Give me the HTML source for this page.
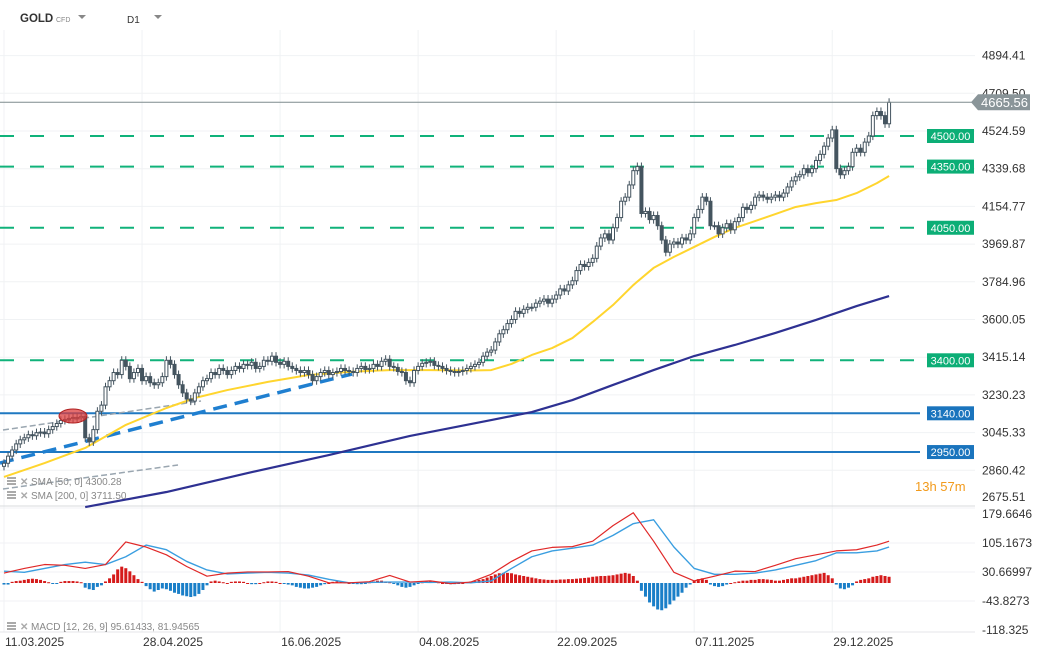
<!DOCTYPE html>
<html><head><meta charset="utf-8"><style>
body{margin:0;background:#fff;font-family:"Liberation Sans",sans-serif;}
svg text{font-family:"Liberation Sans",sans-serif;}
</style></head><body>
<svg id="c" width="1042" height="659" viewBox="0 0 1042 659"></svg>
<script>
const closes=[2895,2930,2960,2990,3010,3020,3035,3030,3045,3048,
3040,3060,3075,3090,3105,3110,3115,3120,3118,3125,
3020,3000,3060,3150,3180,3270,3300,3340,3330,3400,
3370,3310,3340,3360,3300,3320,3290,3280,3290,3320,
3400,3380,3330,3280,3240,3210,3200,3240,3270,3300,
3310,3340,3330,3360,3350,3330,3350,3370,3360,3380,
3375,3390,3360,3370,3400,3395,3420,3390,3380,3395,
3370,3360,3350,3340,3350,3330,3300,3320,3340,3350,
3330,3340,3345,3360,3350,3345,3340,3360,3370,3355,
3360,3380,3370,3395,3405,3370,3365,3345,3340,3300,
3290,3350,3370,3385,3390,3395,3375,3370,3360,3350,
3345,3340,3345,3350,3360,3370,3380,3390,3420,3440,
3450,3490,3530,3550,3580,3600,3640,3630,3650,3660,
3660,3680,3690,3700,3680,3700,3720,3750,3740,3770,
3790,3840,3870,3860,3880,3900,3960,4000,4020,3990,
4050,4100,4180,4200,4260,4330,4350,4120,4130,4090,
4110,4060,3990,3930,3970,3980,3970,4000,3990,4020,
4100,4140,4200,4180,4060,4060,4020,4050,4070,4040,
4080,4100,4150,4140,4160,4200,4210,4200,4190,4200,
4210,4200,4220,4250,4280,4300,4310,4340,4320,4340,
4380,4410,4450,4490,4530,4340,4310,4330,4350,4420,
4440,4420,4470,4500,4600,4620,4600,4560,4665];
const sma50Idx=[0,10,20,30,40,47,55,65,75,85,95,105,115,120,125,130,135,140,145,150,155,160,165,170,175,180,185,190,195,200,205,210,215,218];
const sma50Val=[2828,2896,2970,3083,3166,3215,3254,3294,3328,3343,3352,3352,3350,3352,3382,3426,3460,3509,3588,3671,3769,3853,3907,3956,4005,4049,4083,4117,4152,4171,4186,4220,4269,4304];
const sma200Idx=[20,40,60,80,100,120,130,140,150,160,170,180,190,200,210,218];
const sma200Val=[2680,2754,2847,2935,3029,3107,3146,3205,3279,3352,3421,3475,3534,3598,3666,3715];
const macdIdx=[0,5,10,15,20,25,30,35,40,45,50,55,60,65,70,75,80,85,90,95,100,105,110,115,120,125,130,135,140,145,150,155,160,165,170,175,180,185,190,195,200,205,210,215,218];
const macdVal=[28,40,50,48,40,50,108,95,75,45,20,28,31,31,32,20,3,3,6,22,5,8,1,5,25,58,85,94,96,110,150,183,110,30,8,20,33,32,48,65,75,85,88,100,110];
const signalVal=[33,30,40,50,56,50,70,100,88,58,36,26,28,30,28,23,12,3,4,5,5,4,5,3,8,40,70,85,92,100,125,155,165,95,40,25,25,28,36,48,60,80,80,85,95];
const hist=[-4,-4,3,5,6,8,10,11,10,8,5,2,-2,-2,3,5,5,5,4,2,
-12,-16,-18,-10,-6,4,12,22,35,42,38,30,20,10,3,-8,-16,-22,-18,-14,
-16,-20,-25,-28,-32,-34,-36,-34,-28,-18,-6,4,6,4,2,0,3,4,4,3,
0,-3,-3,0,2,4,4,3,0,-2,-4,-6,-10,-12,-14,-14,-12,-10,-6,-3,
0,3,4,4,2,0,-2,-3,-3,-2,2,4,6,6,4,2,-2,-6,-10,-12,
-10,-6,-2,2,4,4,3,2,0,-2,-3,-3,-2,0,2,4,5,8,10,14,
18,22,25,26,26,25,22,20,18,16,14,12,10,9,8,8,8,9,9,10,
10,11,12,13,14,16,17,18,18,19,20,22,24,26,24,18,6,-20,-35,-50,
-60,-68,-70,-65,-55,-45,-35,-25,-12,-4,6,10,12,8,-4,-8,-10,-8,-4,0,
2,4,6,6,8,8,10,10,9,8,6,6,8,10,12,12,14,16,18,20,
22,24,26,20,12,-4,-14,-16,-12,-6,4,8,10,12,16,18,20,18,16];
const priceTicks=["4894.41","4709.50","4524.59","4339.68","4154.77","3969.87","3784.96","3600.05","3415.14","3230.23","3045.33","2860.42","2675.51"];
const macdTicks=["179.6646","105.1673","30.66997","-43.8273","-118.325"];
const dateLabels=["11.03.2025","28.04.2025","16.06.2025","04.08.2025","22.09.2025","07.11.2025","29.12.2025"];
const dateIdx=[0,34,68,102,136,170,204];
const levelsGreen=[4500,4350,4050,3400];
const levelsBlue=[3140,2950];
const lastPrice=4665.56;

const NS="http://www.w3.org/2000/svg";
const svg=document.getElementById('c');
function mk(tag,attrs,parent){const e=document.createElementNS(NS,tag);for(const k in attrs)e.setAttribute(k,attrs[k]);(parent||svg).appendChild(e);return e;}
const X=i=>4+i*4.06;
const Y=p=>136+(4500-p)*0.2039;
const MY=v=>584-v*0.3893;

const grid=mk('g',{});


priceTicks.forEach(t=>{const y=Y(parseFloat(t));mk('line',{x1:0,x2:975,y1:y,y2:y,stroke:'#f0f2f4','stroke-width':1},grid);});
[105.1673,30.66997,-43.8273].forEach(v=>mk('line',{x1:0,x2:975,y1:MY(v),y2:MY(v),stroke:'#f0f2f4'},grid));
dateIdx.forEach(i=>mk('line',{x1:X(i),x2:X(i),y1:30,y2:632,stroke:'#f0f2f4'},grid));
mk('line',{x1:0,x2:975,y1:506,y2:506,stroke:'#d8dbde'},grid);
mk('line',{x1:0,x2:975,y1:632,y2:632,stroke:'#e4e6e8'},grid);

priceTicks.forEach((t,k)=>{const y=k==priceTicks.length-1?501:Y(parseFloat(t))+4;const e=mk('text',{x:982,y:y,'font-size':12,fill:'#333'});e.textContent=t;

});
macdTicks.forEach(t=>{const v=parseFloat(t);let y=MY(v)+4;if(v>170)y=518;if(v<-110)y=634;const e=mk('text',{x:982,y:y,'font-size':12,fill:'#333'});e.textContent=t;

});
dateLabels.forEach((t,k)=>{const e=mk('text',{x:X(dateIdx[k])+1,y:646,'font-size':12,fill:'#333'});e.textContent=t;

});

levelsGreen.forEach(v=>{const y=Y(v);const l=mk('line',{x1:0,x2:920,y1:y,y2:y,stroke:'#10b27a','stroke-width':2,'stroke-dasharray':'14,16'});


const r=mk('rect',{x:927,y:y-7,width:47,height:14,fill:'#0cae76'});


const t=mk('text',{x:950.5,y:y+4,'font-size':11,fill:'#fff','text-anchor':'middle'});t.textContent=v.toFixed(2);});
levelsBlue.forEach(v=>{const y=Y(v);const l=mk('line',{x1:0,x2:920,y1:y,y2:y,stroke:'#1f78c1','stroke-width':2});


const r=mk('rect',{x:927,y:y-7,width:47,height:14,fill:'#1a74bd'});


const t=mk('text',{x:950.5,y:y+4,'font-size':11,fill:'#fff','text-anchor':'middle'});t.textContent=v.toFixed(2);});

const tl=mk('line',{x1:0,y1:463,x2:352,y2:374,stroke:'#1f7fd0','stroke-width':3.5,'stroke-dasharray':'14,8'});


mk('line',{x1:3,y1:430,x2:201,y2:401,stroke:'#9aa6b0','stroke-width':1.5,'stroke-dasharray':'6,3'});
mk('line',{x1:3,y1:489,x2:178,y2:465,stroke:'#9aa6b0','stroke-width':1.5,'stroke-dasharray':'6,3'});

function poly(idx,vals,yf,col,w){return mk('polyline',{points:idx.map((i,k)=>X(i)+','+yf(vals[k])).join(' '),fill:'none',stroke:col,'stroke-width':w,'stroke-linejoin':'round'});}
const s200=poly(sma200Idx,sma200Val,Y,'#2e3192',2.2);


const s50=poly(sma50Idx,sma50Val,Y,'#ffd52e',2);



const cg=mk('g',{});


closes.forEach((c,i)=>{const o=i?closes[i-1]:2880;const x=X(i);const hi=Math.max(o,c)+20,lo=Math.min(o,c)-20;
mk('line',{x1:x,x2:x,y1:Y(hi),y2:Y(lo),stroke:'#44545f','stroke-width':1},cg);
const top=Y(Math.max(o,c)),h=Math.max(1,Math.abs(Y(o)-Y(c)));
const r=mk('rect',{x:x-1.5,y:top,width:3,height:h,fill:c>=o?'#fff':'#44545f',stroke:'#44545f','stroke-width':1},cg);

});

const el=mk('ellipse',{cx:73,cy:416,rx:14,ry:7,fill:'rgba(220,60,60,0.75)',stroke:'#b02020'});



const ly=Y(lastPrice);
const lp=mk('line',{x1:0,x2:975,y1:ly,y2:ly,stroke:'#7f8c8d','stroke-width':1});


const tag=mk('polygon',{points:`971,${ly} 978,${ly-8} 1030,${ly-8} 1030,${ly+8} 978,${ly+8}`,fill:'#8a9599'});


const lt=mk('text',{x:981,y:ly+5,'font-size':13,fill:'#fff'});lt.textContent=lastPrice.toFixed(2);

const tm=mk('text',{x:915,y:491,'font-size':13,fill:'#f29a1b'});tm.textContent='13h 57m';



const hg=mk('g',{});


hist.forEach((v,i)=>{const y0=MY(0)-1,y1=y0-v*0.3893;const r=mk('rect',{x:X(i)-1.5,y:Math.min(y0,y1),width:3,height:Math.max(1,Math.abs(y1-y0)),fill:v>=0?'#d51a1a':'#1a7fc8'},hg);

});
const sig=poly(macdIdx,signalVal,MY,'#3a9ee0',1.4);


const mc=poly(macdIdx,macdVal,MY,'#e02828',1.2);



function leg(y,txt,name){const g=mk('g',{});
mk('rect',{x:7,y:y-8,width:9,height:2,fill:'#aaa'},g);mk('rect',{x:7,y:y-5,width:9,height:2,fill:'#aaa'},g);mk('rect',{x:7,y:y-2,width:9,height:2,fill:'#aaa'},g);
const x=mk('text',{x:20,y:y,'font-size':10,fill:'#aaa','font-weight':'bold'},g);x.textContent='✕';
const t=mk('text',{x:31,y:y,'font-size':10,fill:'#888'},g);t.textContent=txt;}
leg(485,'SMA [50, 0] 4300.28','sma-50-legend');
leg(499,'SMA [200, 0] 3711.50','sma-200-legend');
leg(630,'MACD [12, 26, 9] 95.61433, 81.94565','macd-legend');

const h=mk('g',{});
const g1=mk('text',{x:20,y:22,'font-size':11.5,'font-weight':'bold',fill:'#333'},h);g1.textContent='GOLD';
const g2=mk('text',{x:56,y:22,'font-size':7,fill:'#888'},h);g2.textContent='CFD';
mk('polygon',{points:'78,15 86,15 82,19',fill:'#888'},h);
const tf=mk('g',{});
const d1=mk('text',{x:127,y:23,'font-size':10,fill:'#333'},tf);d1.textContent='D1';
mk('polygon',{points:'154,15 162,15 158,19',fill:'#888'},tf);
</script>
</body></html>
